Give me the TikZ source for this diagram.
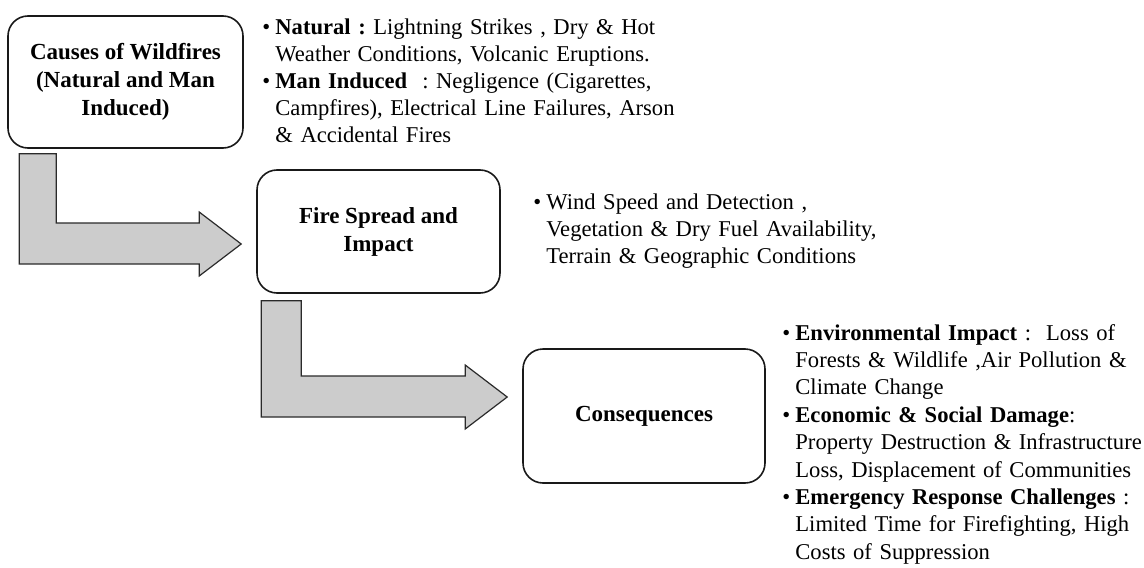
\documentclass[tikz,border=0pt]{standalone}
\usepackage{fontspec}
\setmainfont{Liberation Serif}
\usepackage{xcolor}
\usepackage{tikz}
\usetikzlibrary{calc}
\definecolor{arrowgray}{HTML}{CCCCCC}
\definecolor{edgegray}{HTML}{2A2A2A}
\frenchspacing
\newcommand{\bitem}[1]{\raggedright\hangindent=6.5pt\hangafter=1\noindent
  \makebox[6.5pt][l]{\textbullet}#1\par}
% bent block arrow: top-left of shaft, tip, shaft width
\newcommand{\bentarrow}[3]{%
  \draw[blockarrow] (#2) -- ++(-42,-32) -- ++(0,11) -| ($(#1)+(#3,0)$) -- (#1)
    |- ($(#2)+(-42,20)$) -- ++(0,12) -- cycle;}

\begin{document}
\begin{tikzpicture}[x=0.5pt, y=-0.5pt,
    stage/.style={draw=black!90, line width=0.8pt, rounded corners=10pt, align=center,
      inner sep=0pt, font=\fontsize{11.5}{14}\selectfont\bfseries},
    notes/.style={anchor=base west, inner sep=0pt, text width=#1,
      font=\fontsize{11.3}{13.5}\selectfont},
    notes/.default=220pt,
    blockarrow/.style={fill=arrowgray, draw=edgegray, line width=0.6pt, line join=miter}]
  \useasboundingbox (0,0) rectangle (1144,567);

  % ---- stages ----
  \node[stage, minimum width=117.5pt, minimum height=66pt] (cause) at (125.5,82)
    {Causes of Wildfires\\(Natural and Man\\Induced)};
  \node[stage, minimum width=121.5pt, minimum height=61.5pt] (spread) at (378.5,231.5)
    {Fire Spread and\\Impact};
  \node[stage, minimum width=121pt, minimum height=67pt] (conseq) at (644,416)
    {Consequences};

  % ---- bent arrows ----
  \coordinate (a1s) at ($(cause.south west)+(12,5)$);
  \coordinate (a1t) at ($(spread.west)+(-15,12.5)$);
  \bentarrow{a1s}{a1t}{37}
  \coordinate (a2s) at ($(spread.south west)+(5,7)$);
  \coordinate (a2t) at ($(conseq.west)+(-15,-19)$);
  \bentarrow{a2s}{a2t}{40}

  % ---- notes ----
  \node[notes] (causenotes) at (262,35) {%
    \bitem{\textbf{Natural :} Lightning Strikes , Dry \& Hot\newline
      Weather Conditions, Volcanic Eruptions.}%
    \bitem{\textbf{Man Induced}\ \ : Negligence (Cigarettes,\newline
      Campfires), Electrical Line Failures, Arson\newline
      \& Accidental Fires}};
  \node[notes] (spreadnotes) at (533,209) {%
    \bitem{Wind Speed and Detection ,\newline
      Vegetation \& Dry Fuel Availability,\newline
      Terrain \& Geographic Conditions}};
  \node[notes, font=\fontsize{11.3}{13.7}\selectfont] (conseqnotes) at (782,340) {%
    \bitem{\textbf{Environmental Impact} :\ \ Loss of\newline
      Forests \& Wildlife ,Air Pollution \&\newline
      Climate Change}%
    \bitem{\textbf{Economic \& Social Damage}:\newline
      Property Destruction \& Infrastructure\newline
      Loss, Displacement of Communities}%
    \bitem{\textbf{Emergency Response Challenges} :\newline
      Limited Time for Firefighting, High\newline
      Costs of Suppression}};
\end{tikzpicture}
\end{document}
